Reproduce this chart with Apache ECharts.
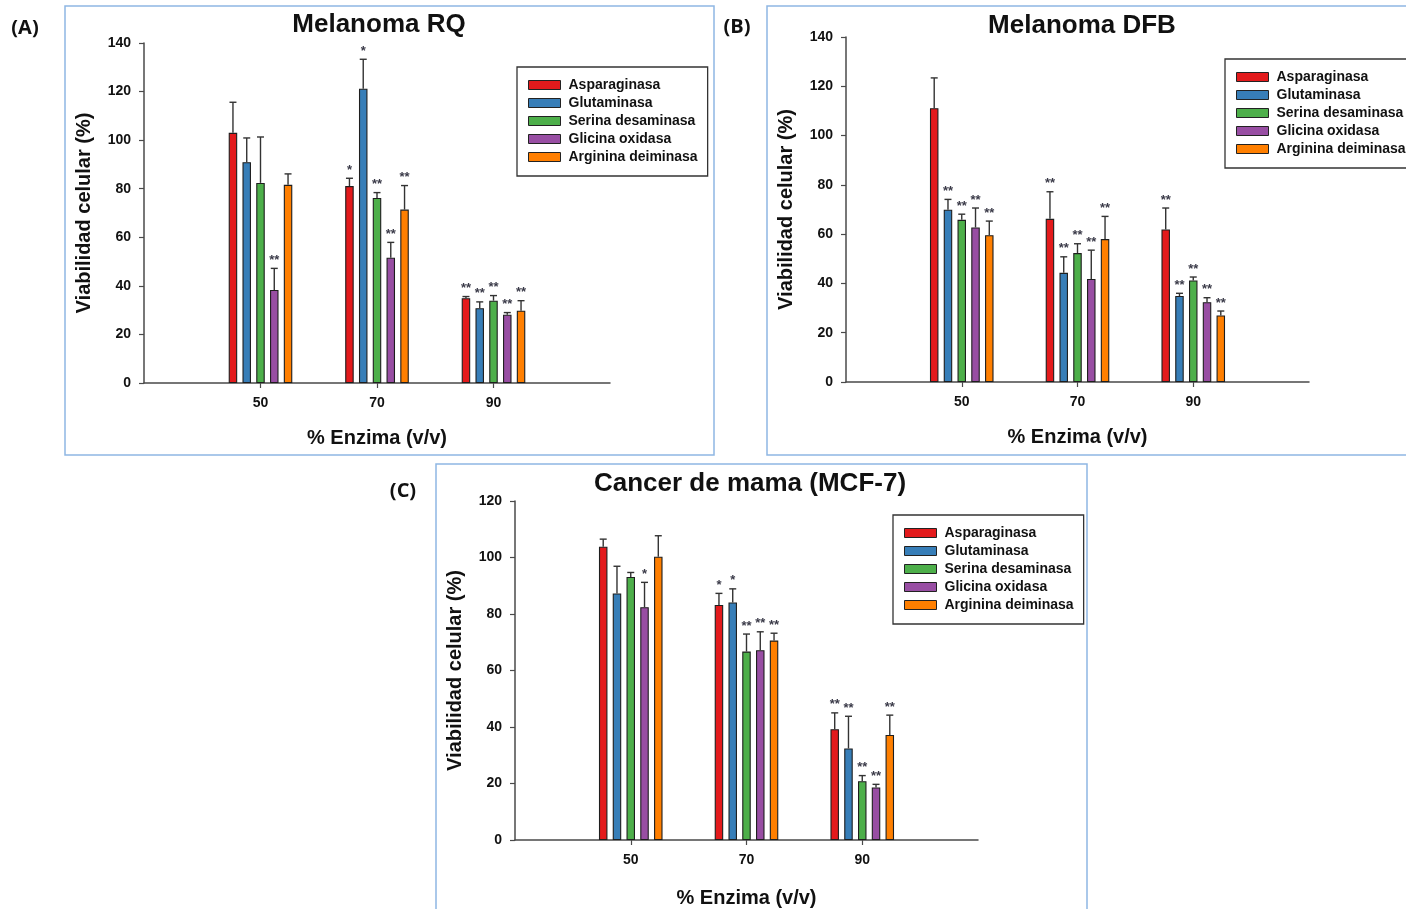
<!DOCTYPE html>
<html>
<head>
<meta charset="utf-8">
<script src="https://cdn.jsdelivr.net/npm/echarts@6/dist/echarts.min.js"></script>
<style>
  html, body { margin: 0; padding: 0; background: #ffffff; }
  #chart { width: 1406px; height: 909px; }
</style>
</head>
<body>
<div id="chart"></div>
<script>
// ---- data ----------------------------------------------------------------
const doses = ['50', '70', '90'];                 // % enzima (v/v)
const enzymes = ['Asparaginasa', 'Glutaminasa', 'Serina desaminasa', 'Glicina oxidasa', 'Arginina deiminasa'];
const enzymeColors = ['#e31a1c', '#377eb8', '#4daf4a', '#984ea3', '#ff7f00'];
const yTicksMelanoma = [0, 20, 40, 60, 80, 100, 120, 140];
const yTicksMama = [0, 20, 40, 60, 80, 100, 120];

// Melanoma RQ: mean viability per enzyme (rows) and dose (columns)
const rqMean = [
  [103.0, 81.1, 34.9],
  [90.9, 121.2, 30.8],
  [82.4, 76.2, 33.9],
  [38.3, 51.6, 28.1],
  [81.6, 71.4, 29.8]
];
const rqSd = [
  [12.6, 3.2, 0.7],
  [10.0, 12.1, 2.6],
  [18.9, 2.2, 2.1],
  [8.9, 6.3, 0.9],
  [4.5, 9.9, 4.1]
];
const rqSig = [
  ['', '*', '**'],
  ['', '*', '**'],
  ['', '**', '**'],
  ['**', '**', '**'],
  ['', '**', '**']
];

// Melanoma DFB
const dfbMean = [
  [111.1, 66.2, 61.9],
  [69.9, 44.3, 34.9],
  [65.8, 52.3, 41.2],
  [62.7, 41.8, 32.4],
  [59.6, 58.0, 27.0]
];
const dfbSd = [
  [12.3, 11.0, 8.7],
  [4.2, 6.5, 1.1],
  [2.3, 3.8, 1.4],
  [7.9, 11.7, 1.8],
  [5.7, 9.2, 1.8]
];
const dfbSig = [
  ['', '**', '**'],
  ['**', '**', '**'],
  ['**', '**', '**'],
  ['**', '**', '**'],
  ['**', '**', '**']
];

// Cancer de mama (MCF-7)
const mcfMean = [
  [103.8, 83.2, 39.2],
  [87.3, 84.1, 32.4],
  [93.1, 66.7, 20.8],
  [82.4, 67.2, 18.6],
  [100.3, 70.6, 37.2]
];
const mcfSd = [
  [2.7, 4.1, 5.8],
  [9.6, 4.8, 11.4],
  [1.6, 6.2, 2.0],
  [8.8, 6.5, 1.1],
  [7.4, 2.6, 7.0]
];
const mcfSig = [
  ['', '*', '**'],
  ['', '*', '**'],
  ['', '**', '**'],
  ['*', '**', '**'],
  ['', '**', '**']
];

// ---- layout & style ---------------------------------------------------------
const FONT = '"Liberation Sans", Arial, Helvetica, sans-serif';
const BAR_W = 8.5;
const BAR_GAP = 0.62;
const PITCH = BAR_W * (1 + BAR_GAP);
const AXIS_COLOR = '#4a4a4a';
const INK = '#111111';

const panels = [
  { title: 'Melanoma RQ', tag: '(A)', mean: rqMean, sd: rqSd, sig: rqSig, ticks: yTicksMelanoma,
    grid: { left: 144, top: 43, width: 466, height: 340 },
    legend: { left: 517, top: 67 },
    titlePos: [379, 25], tagPos: [25, 28],
    frame: { x: 65, y: 6, width: 649, height: 449 } },
  { title: 'Melanoma DFB', tag: '(B)', mean: dfbMean, sd: dfbSd, sig: dfbSig, ticks: yTicksMelanoma,
    grid: { left: 846, top: 37, width: 463, height: 345 },
    legend: { left: 1225, top: 59 },
    titlePos: [1082, 26], tagPos: [737, 27],
    frame: { x: 767, y: 6, width: 680, height: 449 } },
  { title: 'Cancer de mama (MCF-7)', tag: '(C)', mean: mcfMean, sd: mcfSd, sig: mcfSig, ticks: yTicksMama,
    grid: { left: 515, top: 501, width: 463, height: 340 },
    legend: { left: 893, top: 515 },
    titlePos: [750, 484], tagPos: [403, 491],
    frame: { x: 436, y: 464, width: 651, height: 470 } }
];

// x axis runs a half-step beyond the outer doses on both sides
const xCategories = [''].concat(doses, ['']);

const grids = [], xAxes = [], yAxes = [], legends = [], series = [], graphics = [];

panels.forEach((p, gi) => {
  grids.push(Object.assign({ containLabel: false }, p.grid));

  xAxes.push({
    type: 'category', gridIndex: gi, data: xCategories, boundaryGap: false,
    name: '% Enzima (v/v)', nameLocation: 'middle', nameGap: gi === 2 ? 48 : 45,
    nameTextStyle: { fontFamily: FONT, fontWeight: 'bold', fontSize: 20, color: INK },
    axisLine: { lineStyle: { color: AXIS_COLOR, width: 1.5 } },
    axisTick: { length: 5, lineStyle: { color: AXIS_COLOR, width: 1.2 },
                interval: (idx) => idx > 0 && idx < xCategories.length - 1 },
    axisLabel: { interval: 0, margin: 13, fontFamily: FONT, fontWeight: 'bold', fontSize: 14, color: INK },
    splitLine: { show: false }
  });

  const tmax = p.ticks[p.ticks.length - 1];
  yAxes.push({
    type: 'value', gridIndex: gi, min: p.ticks[0], max: tmax, interval: p.ticks[1] - p.ticks[0],
    name: 'Viabilidad celular (%)', nameLocation: 'middle', nameGap: 50, nameRotate: 90,
    nameTextStyle: { fontFamily: FONT, fontWeight: 'bold', fontSize: 20, color: INK },
    axisLine: { show: true, lineStyle: { color: AXIS_COLOR, width: 1.5 } },
    axisTick: { show: true, length: 5, lineStyle: { color: AXIS_COLOR, width: 1.2 } },
    axisLabel: { margin: 13, fontFamily: FONT, fontWeight: 'bold', fontSize: 14, color: INK },
    splitLine: { show: false }
  });

  legends.push({
    orient: 'vertical', left: p.legend.left, top: p.legend.top,
    data: enzymes, icon: 'rect', itemWidth: 32, itemHeight: 9, itemGap: 4,
    padding: [11, 10, 12, 11],
    borderColor: '#333', borderWidth: 1.3, backgroundColor: '#fff',
    itemStyle: { borderColor: '#222', borderWidth: 1 },
    textStyle: { fontFamily: FONT, fontWeight: 'bold', fontSize: 14, lineHeight: 14, color: INK, padding: [0, 0, 0, 3] },
    selectedMode: false
  });

  // bars
  enzymes.forEach((name, k) => {
    series.push({
      type: 'bar', name, xAxisIndex: gi, yAxisIndex: gi,
      data: ['-'].concat(p.mean[k], ['-']),
      barWidth: BAR_W, barGap: (BAR_GAP * 100) + '%',
      itemStyle: { color: enzymeColors[k], borderColor: '#1e1e1e', borderWidth: 1.1 },
      emphasis: { disabled: true }, silent: true, z: 3
    });
  });

  // error whiskers (upper SD) and significance marks
  const items = [];
  p.mean.forEach((row, k) => row.forEach((m, i) => {
    items.push({ k, x: i + 1, m, top: m + p.sd[k][i], s: p.sig[k][i] });
  }));
  series.push({
    type: 'custom', xAxisIndex: gi, yAxisIndex: gi, silent: true, z: 4,
    data: items.map(d => [d.x, d.top]),
    encode: { x: 0, y: 1 },
    renderItem(params, api) {
      const d = items[params.dataIndex];
      const base = api.coord([d.x, d.m]);
      const top = api.coord([d.x, d.top]);
      const cx = base[0] + (d.k - 2) * PITCH;
      const children = [
        { type: 'line', shape: { x1: cx, y1: base[1], x2: cx, y2: top[1] },
          style: { stroke: '#333', lineWidth: 1.4 } },
        { type: 'line', shape: { x1: cx - 3.5, y1: top[1], x2: cx + 3.5, y2: top[1] },
          style: { stroke: '#333', lineWidth: 1.4 } }
      ];
      if (d.s) {
        children.push({ type: 'text', x: cx, y: top[1] - 8,
          style: { text: d.s, fill: '#3a3a48', font: 'bold 13px ' + FONT, align: 'center', verticalAlign: 'middle' } });
      }
      return { type: 'group', children };
    }
  });

  // panel frame, title and tag
  graphics.push({ type: 'rect', shape: p.frame, silent: true, z: -10,
    style: { fill: 'none', stroke: '#8fb7e3', lineWidth: 1.5 } });
  graphics.push({ type: 'text', x: p.titlePos[0], y: p.titlePos[1], silent: true,
    style: { text: p.title, font: 'bold 26px ' + FONT, fill: INK, align: 'center', verticalAlign: 'middle' } });
  graphics.push({ type: 'text', x: p.tagPos[0], y: p.tagPos[1], silent: true,
    style: { text: p.tag, font: 'bold 20px "Open Sans", ' + FONT, fill: INK, align: 'center', verticalAlign: 'middle' } });
});

const chart = echarts.init(document.getElementById('chart'), null, { renderer: 'canvas' });
chart.setOption({
  animation: false,
  backgroundColor: '#ffffff',
  grid: grids,
  xAxis: xAxes,
  yAxis: yAxes,
  legend: legends,
  series,
  graphic: graphics
});
</script>
</body>
</html>
